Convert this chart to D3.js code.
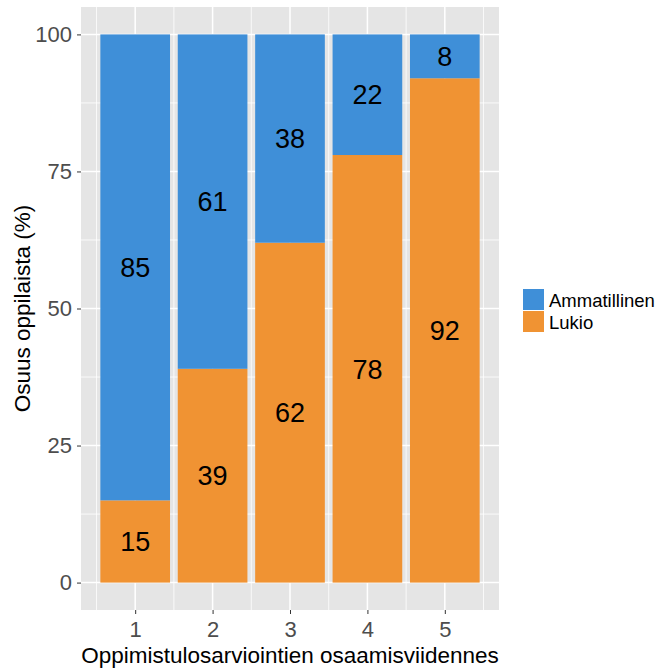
<!DOCTYPE html>
<html><head><meta charset="utf-8">
<script src="https://cdn.jsdelivr.net/npm/d3@7"></script>
<style>body{margin:0;background:#fff}svg{display:block}</style>
</head><body>
<svg id="c" width="672" height="672"></svg>
<script>
const categories = ["1","2","3","4","5"];
const ammatillinen = [85, 61, 38, 22, 8];
const lukio = [15, 39, 62, 78, 92];
const seriesNames = ["Ammatillinen","Lukio"];
const seriesColors = ["#3F8FD8","#F09333"];
const yTicks = [0,25,50,75,100];
const yMinor = [12.5,37.5,62.5,87.5];

const svg = d3.select("#c");
const P = {l:81, r:499, t:7, b:610};
const font = "'Liberation Sans', Arial, sans-serif";

const y = d3.scaleLinear().domain([-5,105]).range([P.b,P.t]);
const x = d3.scaleLinear().domain([0.3,5.7]).range([P.l,P.r]);

svg.append("rect").attr("x",P.l).attr("y",P.t).attr("width",P.r-P.l).attr("height",P.b-P.t).attr("fill","#E5E5E5");
const g = svg.append("g");
yMinor.forEach(v=>g.append("line").attr("x1",P.l).attr("x2",P.r).attr("y1",y(v)).attr("y2",y(v)).attr("stroke","#fff").attr("stroke-width",0.8));
[0.5,1.5,2.5,3.5,4.5,5.5].forEach(v=>g.append("line").attr("y1",P.t).attr("y2",P.b).attr("x1",x(v)).attr("x2",x(v)).attr("stroke","#fff").attr("stroke-width",0.8));
yTicks.forEach(v=>g.append("line").attr("x1",P.l).attr("x2",P.r).attr("y1",y(v)).attr("y2",y(v)).attr("stroke","#fff").attr("stroke-width",1.5));
categories.forEach((c,i)=>g.append("line").attr("y1",P.t).attr("y2",P.b).attr("x1",x(i+1)).attr("x2",x(i+1)).attr("stroke","#fff").attr("stroke-width",1.5));

const data = categories.map((c,i)=>({cat:c, i:i+1, Lukio:lukio[i], Ammatillinen:ammatillinen[i]}));
const stack = d3.stack().keys(["Lukio","Ammatillinen"])(data);
const bw = x(1.45)-x(0.55);
const colorOf = k => seriesColors[seriesNames.indexOf(k)];
stack.forEach(layer=>{
  svg.append("g").selectAll("rect").data(layer).join("rect")
    .attr("x",d=>x(d.data.i)-bw/2).attr("width",bw)
    .attr("y",d=>y(d[1])).attr("height",d=>y(d[0])-y(d[1]))
    .attr("fill",colorOf(layer.key));
  svg.append("g").selectAll("text").data(layer).join("text")
    .attr("x",d=>x(d.data.i)).attr("y",d=>y((d[0]+d[1])/2)).attr("dy","0.36em")
    .attr("text-anchor","middle").attr("font-family",font).attr("font-size",27).attr("fill","#000")
    .text(d=>d.data[layer.key]);
});

// y axis
const ya = svg.append("g").attr("transform",`translate(${P.l},0)`)
  .call(d3.axisLeft(y).tickValues(yTicks).tickSize(4).tickPadding(5));
ya.select(".domain").remove();
ya.selectAll("line").attr("stroke","#333").attr("stroke-width",1);
ya.selectAll("text").attr("font-family",font).attr("font-size",22).attr("fill","#4D4D4D");

// x axis
const xa = svg.append("g").attr("transform",`translate(0,${P.b})`)
  .call(d3.axisBottom(x).tickValues([1,2,3,4,5]).tickFormat((d,i)=>categories[i]).tickSize(4).tickPadding(7));
xa.select(".domain").remove();
xa.selectAll("line").attr("stroke","#333").attr("stroke-width",1);
xa.selectAll("text").attr("font-family",font).attr("font-size",22).attr("fill","#4D4D4D");

svg.append("text").attr("x",(P.l+P.r)/2).attr("y",663).attr("text-anchor","middle")
  .attr("font-family",font).attr("font-size",22.5).attr("fill","#000").text("Oppimistulosarviointien osaamisviidennes");
svg.append("text").attr("transform",`translate(30,${(P.t+P.b)/2}) rotate(-90)`).attr("text-anchor","middle")
  .attr("font-family",font).attr("font-size",22.5).attr("fill","#000").text("Osuus oppilaista (%)");

// legend
const lg = svg.append("g").attr("transform","translate(523,289)");
seriesNames.forEach((n,i)=>{
  lg.append("rect").attr("x",0).attr("y",i*22).attr("width",21).attr("height",21).attr("fill",seriesColors[i]);
  lg.append("text").attr("x",26).attr("y",i*22+11).attr("dy","0.36em").attr("font-family",font).attr("font-size",18.5).attr("fill","#000").text(n);
});
</script>
</body></html>
